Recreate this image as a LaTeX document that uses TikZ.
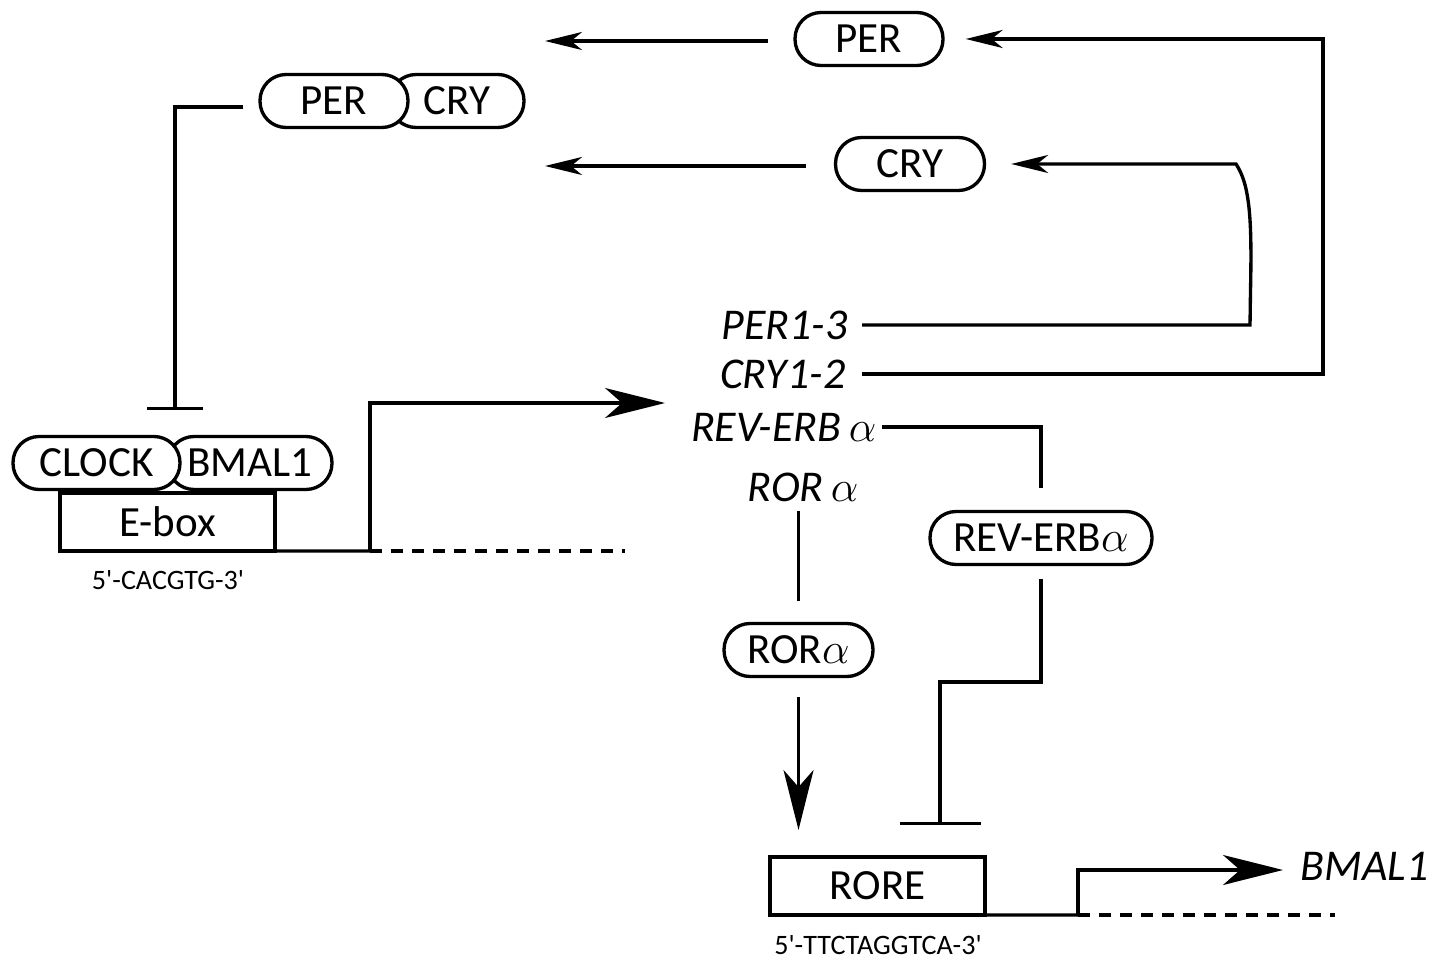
\documentclass[tikz,border=0pt]{standalone}
\usepackage{fontspec}
\setmainfont{Carlito}
\newfontfamily\dnafont{Carlito}[Ligatures=TeXOff]
\usetikzlibrary{arrows.meta}
\begin{document}
\begin{tikzpicture}[x=0.02cm,y=-0.02cm, line width=1.9pt,
 pill/.style={draw, fill=white, rounded corners=0.52cm, minimum height=1.06cm, inner sep=0pt, font=\fontsize{24.5}{28}\selectfont},
 boxn/.style={draw, outer sep=0pt, minimum width=4.3cm, minimum height=1.16cm, inner sep=0pt, font=\fontsize{24.5}{28}\selectfont},
 lab/.style={font=\fontsize{25}{28}\selectfont\itshape, inner sep=0pt},
 dna/.style={font=\fontsize{16}{19}\selectfont\dnafont, inner sep=0pt},
 sa/.style={-{Stealth[length=0.74cm,width=0.36cm,inset=0.22cm]}},
 la/.style={-{Stealth[length=1.2cm,width=0.6cm,inset=0.34cm]}},
 inhs/.style={-{Bar[width=1.14cm]}},
 inhl/.style={-{Bar[width=1.62cm]}},
 dsh/.style={dash pattern=on 0.24cm off 0.18cm},
]
\useasboundingbox (0,0) rectangle (1435,962);

% top proteins
\node[pill, minimum width=2.96cm] (per) at (869,39) {PER};
\node[pill, minimum width=2.98cm] (cry) at (910,164) {CRY};
\coordinate (perout) at (545,41);
\coordinate (cryout) at (545,166);
\draw[sa, shorten <=0.5cm] (per.west |- perout) -- (perout);
\draw[sa, shorten <=0.56cm] (cry.west |- cryout) -- (cryout);

% PER/CRY complex
\node[pill, minimum width=2.68cm] (cryc) at (457,101) {CRY};
\node[pill, minimum width=2.96cm] (perc) at (334,101) {PER};

% CLOCK/BMAL1 on E-box
\node[pill, minimum width=3.28cm] (bmalc) at (250,463) {BMAL1};
\node[pill, minimum width=3.34cm] (clock) at (96.5,463) {CLOCK};
\node[boxn] (ebox) at (167.5,522) {E-box};
\node[dna] (eseq) at (168,580) {5'-CACGTG-3'};

% inhibition PER/CRY -> CLOCK/BMAL1
\coordinate (inhA) at (175,410);
\draw[inhs, shorten <=0.3cm] (perc.west |- 0,107) -| (inhA);

% gene labels
\node[lab, anchor=east] (lper) at (849,325) {PER1-3};
\node[lab, anchor=east] (lcry) at (847,374) {CRY1-2};
\node[lab, anchor=east] (lrev) at (878,427) {REV-ERB\,$\alpha$};
\node[lab] (lror) at (803,487) {ROR\,$\alpha$};

% E-box promoter
\coordinate (tss) at (370,551);
\coordinate (etip) at (665,403);
\coordinate (edash) at (625,551);
\draw (ebox.south east) -- (tss);
\draw[la] (tss) |- (etip);
\draw[dsh] (tss) -- (edash);

% CRY1-2 -> PER
\coordinate (rt) at (1323,0);
\draw[sa, shorten <=0.3cm] (lcry.east) -| (rt |- per.east) -- ([xshift=0.42cm]per.east);

% PER1-3 -> CRY
\coordinate (c1) at (1250,325);
\coordinate (c2) at (1236,164);
\draw[sa, shorten <=0.26cm] (lper.east) -- (c1) -- (1250.5,290) .. controls (1252,220) and (1250,185) .. (c2) -- ([xshift=0.5cm]cry.east |- c2);

% REV-ERBa
\node[pill, minimum width=4.44cm] (rev) at (1041,538) {REV-ERB$\alpha$};
\draw[shorten <=0.08cm] (lrev.east) -| ([yshift=0.44cm]rev.north);
\coordinate (k1) at (940,682);
\coordinate (inhB) at (940,825);
\draw[inhl, shorten <=0.26cm] (rev.south) |- (k1) -- (inhB);

% RORa
\node[pill, minimum width=2.98cm] (ror) at (798.5,650) {ROR$\alpha$};
\node[boxn] (rore) at (877.5,886) {RORE};
\node[dna] (rseq) at (878,945) {5'-TTCTAGGTCA-3'};
\draw[shorten <=0.15cm, shorten >=0.42cm] (lror.south -| ror.north) -- (ror.north);
\draw[la, shorten <=0.38cm, shorten >=0.54cm] (ror.south) -- (ror.south |- rore.north);

% RORE promoter
\node[lab, anchor=west] (lbmal) at (1299,866) {BMAL1};
\coordinate (tss2) at (1078,915);
\coordinate (rdash) at (1335,915);
\draw (rore.south east) -- (tss2);
\draw[la] (tss2) |- ([xshift=-0.32cm]lbmal.west |- 0,870);
\draw[dsh] (tss2) -- (rdash);
\end{tikzpicture}
\end{document}
